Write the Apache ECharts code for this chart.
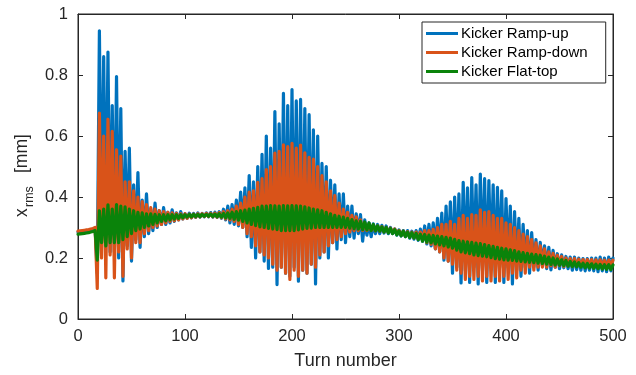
<!DOCTYPE html>
<html>
<head>
<meta charset="utf-8">
<script src="https://cdn.jsdelivr.net/npm/echarts/dist/echarts.min.js"></script>
<style>
  html, body { margin: 0; padding: 0; background: #fff; }
  #chart { width: 636px; height: 375px; }
</style>
</head>
<body>
<div id="chart"></div>
<script>
// Beam size x_rms [mm] sampled every 2 turns (turn = index * turnStep).
const turnStep = 2;

const seriesNames = ['Kicker Ramp-up', 'Kicker Ramp-down', 'Kicker Flat-top'];

const rampUp = [
  0.285, 0.286, 0.287, 0.288, 0.289, 0.290, 0.292, 0.294, 0.297, 0.150,
  0.945, 0.250, 0.860, 0.240, 0.875, 0.220, 0.700, 0.220, 0.795, 0.200,
  0.690, 0.125, 0.550, 0.240, 0.560, 0.190, 0.440, 0.260, 0.480, 0.235,
  0.390, 0.270, 0.410, 0.280, 0.360, 0.290, 0.380, 0.300, 0.355, 0.310,
  0.365, 0.310, 0.350, 0.315, 0.358, 0.320, 0.348, 0.325, 0.352, 0.328,
  0.345, 0.330, 0.347, 0.332, 0.346, 0.333, 0.348, 0.334, 0.346, 0.335,
  0.348, 0.335, 0.349, 0.334, 0.350, 0.333, 0.352, 0.330, 0.360, 0.325,
  0.370, 0.315, 0.375, 0.310, 0.390, 0.305, 0.416, 0.300, 0.430, 0.270,
  0.470, 0.235, 0.450, 0.200, 0.500, 0.220, 0.540, 0.190, 0.600, 0.166,
  0.560, 0.170, 0.680, 0.113, 0.640, 0.170, 0.740, 0.150, 0.700, 0.140,
  0.752, 0.170, 0.715, 0.124, 0.720, 0.160, 0.690, 0.150, 0.670, 0.180,
  0.620, 0.115, 0.600, 0.200, 0.510, 0.220, 0.500, 0.200, 0.455, 0.250,
  0.440, 0.230, 0.410, 0.260, 0.410, 0.250, 0.370, 0.270, 0.370, 0.265,
  0.345, 0.280, 0.342, 0.255, 0.325, 0.275, 0.315, 0.270, 0.312, 0.280,
  0.310, 0.280, 0.307, 0.282, 0.305, 0.280, 0.300, 0.280, 0.295, 0.275,
  0.292, 0.272, 0.290, 0.270, 0.290, 0.265, 0.288, 0.262, 0.290, 0.258,
  0.295, 0.255, 0.305, 0.246, 0.310, 0.240, 0.315, 0.230, 0.330, 0.220,
  0.347, 0.193, 0.370, 0.190, 0.384, 0.150, 0.400, 0.170, 0.410, 0.118,
  0.448, 0.160, 0.430, 0.120, 0.464, 0.170, 0.440, 0.115, 0.475, 0.160,
  0.460, 0.120, 0.454, 0.170, 0.440, 0.120, 0.432, 0.170, 0.420, 0.120,
  0.395, 0.170, 0.370, 0.115, 0.352, 0.160, 0.330, 0.140, 0.310, 0.170,
  0.290, 0.150, 0.283, 0.171, 0.260, 0.160, 0.251, 0.175, 0.240, 0.165,
  0.235, 0.161, 0.225, 0.170, 0.214, 0.165, 0.210, 0.168, 0.205, 0.165,
  0.203, 0.160, 0.203, 0.162, 0.200, 0.160, 0.198, 0.158, 0.198, 0.160,
  0.200, 0.158, 0.200, 0.155, 0.203, 0.158, 0.200, 0.155, 0.203, 0.158,
  0.200
];

const rampDown = [
  0.288, 0.289, 0.290, 0.291, 0.292, 0.293, 0.295, 0.297, 0.300, 0.100,
  0.675, 0.200, 0.600, 0.135, 0.655, 0.210, 0.615, 0.135, 0.555, 0.220,
  0.534, 0.140, 0.450, 0.230, 0.450, 0.200, 0.420, 0.250, 0.400, 0.250,
  0.385, 0.280, 0.375, 0.290, 0.365, 0.300, 0.360, 0.305, 0.355, 0.310,
  0.352, 0.315, 0.350, 0.320, 0.348, 0.322, 0.346, 0.325, 0.345, 0.328,
  0.345, 0.330, 0.344, 0.332, 0.344, 0.334, 0.345, 0.335, 0.345, 0.336,
  0.346, 0.336, 0.346, 0.335, 0.347, 0.334, 0.349, 0.332, 0.352, 0.328,
  0.355, 0.325, 0.360, 0.320, 0.370, 0.310, 0.380, 0.300, 0.400, 0.280,
  0.416, 0.270, 0.420, 0.240, 0.448, 0.220, 0.460, 0.210, 0.490, 0.200,
  0.500, 0.180, 0.544, 0.160, 0.550, 0.170, 0.571, 0.150, 0.565, 0.130,
  0.576, 0.160, 0.560, 0.140, 0.570, 0.160, 0.545, 0.150, 0.530, 0.180,
  0.524, 0.170, 0.500, 0.210, 0.470, 0.220, 0.450, 0.240, 0.420, 0.250,
  0.405, 0.260, 0.380, 0.270, 0.360, 0.280, 0.350, 0.285, 0.340, 0.290,
  0.335, 0.290, 0.325, 0.290, 0.315, 0.290, 0.310, 0.290, 0.307, 0.289,
  0.305, 0.288, 0.303, 0.286, 0.300, 0.284, 0.298, 0.283, 0.295, 0.280,
  0.290, 0.275, 0.288, 0.272, 0.286, 0.270, 0.285, 0.266, 0.285, 0.262,
  0.285, 0.260, 0.290, 0.250, 0.290, 0.245, 0.294, 0.230, 0.300, 0.220,
  0.310, 0.200, 0.310, 0.190, 0.320, 0.180, 0.310, 0.160, 0.330, 0.150,
  0.340, 0.130, 0.330, 0.140, 0.342, 0.130, 0.340, 0.140, 0.358, 0.125,
  0.350, 0.140, 0.352, 0.125, 0.340, 0.140, 0.330, 0.125, 0.330, 0.140,
  0.315, 0.130, 0.310, 0.150, 0.300, 0.135, 0.290, 0.160, 0.278, 0.150,
  0.270, 0.170, 0.260, 0.160, 0.250, 0.170, 0.240, 0.170, 0.230, 0.170,
  0.220, 0.175, 0.215, 0.170, 0.209, 0.175, 0.205, 0.172, 0.200, 0.175,
  0.198, 0.172, 0.198, 0.175, 0.196, 0.172, 0.195, 0.175, 0.195, 0.172,
  0.195, 0.174, 0.194, 0.172, 0.194, 0.174, 0.193, 0.172, 0.193, 0.174,
  0.193
];

const flatTop = [
  0.278, 0.279, 0.280, 0.281, 0.282, 0.283, 0.285, 0.287, 0.290, 0.193,
  0.355, 0.250, 0.360, 0.240, 0.374, 0.250, 0.360, 0.250, 0.375, 0.250,
  0.370, 0.260, 0.368, 0.270, 0.360, 0.280, 0.355, 0.290, 0.350, 0.295,
  0.348, 0.300, 0.345, 0.305, 0.345, 0.310, 0.343, 0.315, 0.342, 0.320,
  0.342, 0.322, 0.342, 0.325, 0.342, 0.328, 0.342, 0.330, 0.342, 0.332,
  0.342, 0.334, 0.343, 0.335, 0.343, 0.336, 0.343, 0.336, 0.343, 0.337,
  0.343, 0.337, 0.344, 0.336, 0.344, 0.335, 0.345, 0.334, 0.346, 0.332,
  0.348, 0.330, 0.350, 0.327, 0.352, 0.324, 0.355, 0.320, 0.357, 0.315,
  0.360, 0.310, 0.363, 0.306, 0.366, 0.302, 0.370, 0.300, 0.370, 0.297,
  0.372, 0.295, 0.371, 0.293, 0.370, 0.290, 0.372, 0.290, 0.371, 0.290,
  0.372, 0.290, 0.371, 0.292, 0.370, 0.295, 0.368, 0.297, 0.364, 0.298,
  0.360, 0.300, 0.358, 0.300, 0.355, 0.300, 0.350, 0.300, 0.345, 0.300,
  0.340, 0.300, 0.337, 0.300, 0.334, 0.300, 0.330, 0.298, 0.326, 0.296,
  0.322, 0.295, 0.320, 0.293, 0.318, 0.292, 0.315, 0.290, 0.310, 0.289,
  0.305, 0.288, 0.302, 0.285, 0.300, 0.282, 0.297, 0.280, 0.293, 0.276,
  0.289, 0.273, 0.288, 0.270, 0.285, 0.267, 0.283, 0.265, 0.281, 0.260,
  0.278, 0.255, 0.277, 0.252, 0.275, 0.250, 0.274, 0.246, 0.272, 0.243,
  0.270, 0.240, 0.268, 0.236, 0.265, 0.232, 0.261, 0.226, 0.257, 0.220,
  0.255, 0.217, 0.253, 0.214, 0.251, 0.210, 0.249, 0.208, 0.247, 0.206,
  0.244, 0.204, 0.241, 0.201, 0.238, 0.198, 0.235, 0.196, 0.232, 0.194,
  0.230, 0.193, 0.227, 0.192, 0.224, 0.190, 0.220, 0.189, 0.218, 0.187,
  0.215, 0.186, 0.213, 0.185, 0.211, 0.183, 0.209, 0.182, 0.206, 0.180,
  0.203, 0.179, 0.200, 0.177, 0.197, 0.176, 0.194, 0.175, 0.192, 0.173,
  0.189, 0.172, 0.187, 0.171, 0.185, 0.170, 0.183, 0.168, 0.182, 0.167,
  0.181, 0.166, 0.180, 0.165, 0.179, 0.164, 0.178, 0.163, 0.178, 0.162,
  0.177
];

const xRange = { min: 0, max: 500, interval: 100 };
const yRange = { min: 0, max: 1, interval: 0.2 };

const colors = ['#0072BD', '#D95319', '#0A830A'];
const axisColor = '#262626';
const fontFamily = '"Liberation Sans", Arial, Helvetica, sans-serif';

const toPoints = arr => arr.map((v, i) => [i * turnStep, v]);

const chart = echarts.init(document.getElementById('chart'), null, { renderer: 'canvas' });

function axisBase(extra) {
  return Object.assign({
    type: 'value',
    axisLine: { show: true, onZero: false, lineStyle: { color: axisColor, width: 1 } },
    axisTick: { show: true, inside: true, length: 5, lineStyle: { color: axisColor, width: 1 } },
    splitLine: { show: false },
    axisLabel: { color: axisColor, fontFamily: fontFamily, fontSize: 16.5 }
  }, extra);
}

const option = {
  animation: false,
  backgroundColor: '#fff',
  color: colors,
  grid: {
    left: 78, right: 23, top: 14, bottom: 48,
    show: true, borderColor: axisColor, borderWidth: 1, backgroundColor: 'transparent'
  },
  xAxis: [
    axisBase(Object.assign({ position: 'bottom',
      axisLabel: { color: axisColor, fontFamily: fontFamily, fontSize: 16.5, margin: 9 },
      name: 'Turn number', nameLocation: 'middle', nameGap: 33,
      nameTextStyle: { color: axisColor, fontFamily: fontFamily, fontSize: 18 }
    }, xRange)),
    axisBase(Object.assign({ position: 'top', axisLabel: { show: false } }, xRange))
  ],
  yAxis: [
    axisBase(Object.assign({ position: 'left',
      axisLabel: { color: axisColor, fontFamily: fontFamily, fontSize: 16.5, margin: 10 }
    }, yRange)),
    axisBase(Object.assign({ position: 'right', axisLabel: { show: false } }, yRange))
  ],
  legend: {
    orient: 'vertical',
    left: 422, top: 22,
    padding: [4, 18, 4, 4],
    itemGap: 4,
    itemWidth: 32, itemHeight: 3,
    icon: 'rect',
    backgroundColor: '#fff',
    borderColor: axisColor, borderWidth: 1, borderRadius: 0,
    textStyle: { color: '#000', fontFamily: fontFamily, fontSize: 15, padding: [0, 0, 0, -2] },
    data: seriesNames
  },
  graphic: [
    {
      type: 'group', x: 22, y: 217, rotation: Math.PI / 2,
      children: [
        { type: 'text', x: 0, y: 0, style: { text: 'x', fill: axisColor, font: '17.5px ' + fontFamily, textAlign: 'left', textVerticalAlign: 'middle' } },
        { type: 'text', x: 10, y: 8, style: { text: 'rms', fill: axisColor, font: '12.5px ' + fontFamily, textAlign: 'left', textVerticalAlign: 'middle' } },
        { type: 'text', x: 44, y: 0, style: { text: '[mm]', fill: axisColor, font: '17.5px ' + fontFamily, textAlign: 'left', textVerticalAlign: 'middle' } }
      ]
    }
  ],
  series: [
    { name: seriesNames[0], data: toPoints(rampUp) },
    { name: seriesNames[1], data: toPoints(rampDown) },
    { name: seriesNames[2], data: toPoints(flatTop) }
  ].map((s, i) => Object.assign({
    type: 'line',
    xAxisIndex: 0, yAxisIndex: 0,
    showSymbol: false, symbol: 'none',
    sampling: null,
    z: 2 + i,
    lineStyle: { width: 3.2, color: colors[i], join: 'round', cap: 'round' },
    emphasis: { disabled: true }
  }, s))
};

chart.setOption(option);
</script>
</body>
</html>
